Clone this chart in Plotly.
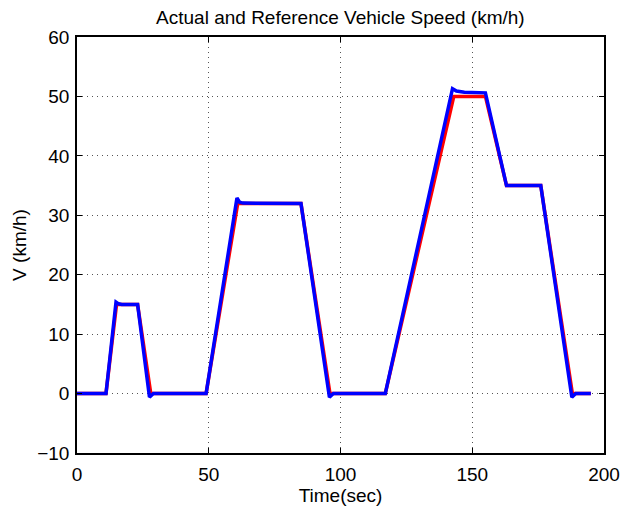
import plotly.graph_objects as go

# Reference speed profile
ref_t = [0, 11, 15, 23, 28, 49, 61, 85, 96, 117, 143, 155, 163, 176, 188, 195]
ref_v = [0, 0, 15, 15, 0, 0, 32, 32, 0, 0, 50, 50, 35, 35, 0, 0]

# Actual vehicle speed
act_t = [0, 11, 14.8, 15.8, 17, 23, 27.5, 29, 49, 60.7, 61.7, 63, 85, 95.8, 97.3,
         117, 142.5, 144, 147, 155, 163, 176, 187.8, 189.3, 195]
act_v = [0, 0, 15.4, 15.1, 15, 15, -0.6, 0, 0, 32.9, 32.2, 32.05, 32, -0.6, 0,
         0, 51.3, 50.9, 50.7, 50.6, 35, 35, -0.6, 0, 0]

x_ticks = [0, 50, 100, 150, 200]
y_ticks = [-10, 0, 10, 20, 30, 40, 50, 60]

FONT = "Liberation Sans, Arial, sans-serif"

fig = go.Figure()
fig.add_trace(go.Scatter(x=ref_t, y=ref_v, mode="lines",
                         line=dict(color="#ff0000", width=3.5), name="Reference"))
fig.add_trace(go.Scatter(x=act_t, y=act_v, mode="lines",
                         line=dict(color="#0000ff", width=3.5), name="Actual"))

axis_common = dict(
    showline=True, linecolor="black", linewidth=1.5, mirror="ticks",
    ticks="inside", ticklen=5, tickcolor="black", tickwidth=1,
    showgrid=True, gridcolor="#555555", gridwidth=1, griddash="1px,4px",
    zeroline=False, automargin=False,
    tickfont=dict(family=FONT, size=19, color="black"),
)

fig.update_xaxes(range=[0, 200], tickvals=x_ticks, ticktext=[str(v) for v in x_ticks],
                 title=dict(text="Time(sec)", font=dict(family=FONT, size=19, color="black"), standoff=0),
                 ticklabelstandoff=3, **axis_common)
fig.update_yaxes(range=[-10, 60], tickvals=y_ticks, ticktext=["\u221210" if v < 0 else str(v) for v in y_ticks],
                 title=dict(text="V (km/h)", font=dict(family=FONT, size=19, color="black"), standoff=6),
                 ticklabelstandoff=2, **axis_common)

fig.update_layout(
    width=620, height=507,
    margin=dict(l=77, r=16, t=37, b=54),
    paper_bgcolor="white", plot_bgcolor="white",
    showlegend=False,
    title=dict(text="Actual and Reference Vehicle Speed (km/h)", x=0.549, xanchor="center",
               y=1 - 17 / 507, yanchor="middle", yref="container",
               font=dict(family=FONT, size=19, color="black")),
)

fig.write_html("out.html")
